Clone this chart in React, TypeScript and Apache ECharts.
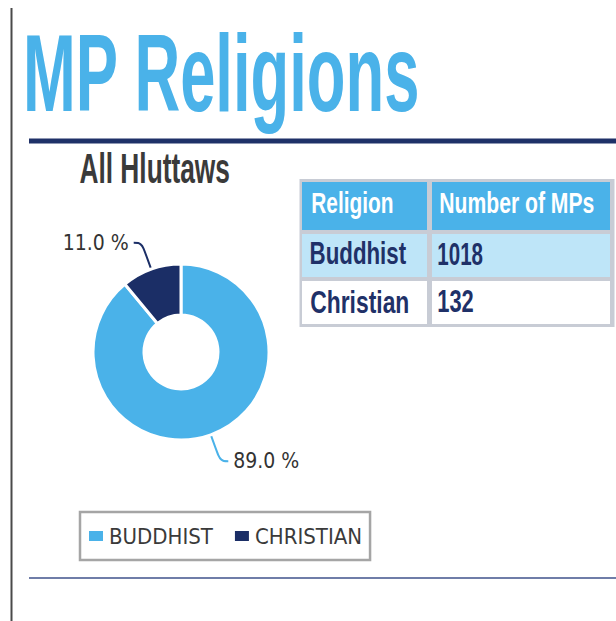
import React, { useEffect, useRef } from "react";
import * as echarts from "echarts";

const titleText = "MP Religions";
const subtitleText = "All Hluttaws";
const tableHeader = ["Religion", "Number of MPs"];
const religions = ["Buddhist", "Christian"];
const mpCounts = [1018, 132];
const pieShares = [89.0, 11.0];
const sliceColors = ["#4AB2E9", "#1B2E66"];

const BASE_FONT = '"Liberation Sans", Arial, sans-serif';
const NARROW_FONT = '"Liberation Sans Narrow", "DejaVu Sans Condensed", "Liberation Sans", sans-serif';

let measureCtx: CanvasRenderingContext2D | null = null;
function measure(text: string, weight: string, size: number) {
  if (!measureCtx) measureCtx = document.createElement("canvas").getContext("2d");
  measureCtx!.font = `${weight} ${size}px ${BASE_FONT}`;
  const m = measureCtx!.measureText(text);
  const l = m.actualBoundingBoxLeft ?? 0;
  const r = m.actualBoundingBoxRight ?? m.width;
  return { ink: l + r, left: -l };
}

// text fitted into a box: left x, baseline y, cap height, ink width
function fitText(text: string, left: number, baseline: number, capH: number, width: number, fill: string, weight = "bold") {
  const fontSize = capH / 0.716;
  const m = measure(text, weight, fontSize);
  const sx = width / m.ink;
  return {
    type: "text",
    x: left - m.left * sx,
    y: baseline - capH / 2,
    scaleX: sx,
    silent: true,
    style: {
      text,
      fill,
      fontSize,
      fontWeight: weight,
      fontFamily: BASE_FONT,
      align: "left",
      verticalAlign: "middle",
    },
  };
}

export default function App() {
  const ref = useRef<HTMLDivElement>(null);

  useEffect(() => {
    document.body.style.margin = "0";
    if (!ref.current) return;
    const chart = echarts.init(ref.current, null, { renderer: "svg" });

    const navy = "#1F3168";
    const blue = "#4AB2E9";
    const graphics: any[] = [];

    // frame lines
    graphics.push({ type: "line", silent: true, shape: { x1: 11.5, y1: 8, x2: 11.5, y2: 621 }, style: { stroke: "#4a4a4a", lineWidth: 2 } });
    graphics.push({ type: "line", silent: true, shape: { x1: 29, y1: 141, x2: 616, y2: 141 }, style: { stroke: navy, lineWidth: 5 } });
    graphics.push({ type: "line", silent: true, shape: { x1: 29, y1: 578, x2: 616, y2: 578 }, style: { stroke: "#6F7DA8", lineWidth: 2 } });

    // title & subtitle
    graphics.push(fitText(titleText, 27, 112, 79, 391, blue));
    graphics.push(fitText(subtitleText, 80, 183.5, 30.5, 149, "#3A3A3A"));

    // table
    const colX = [302, 432];
    const colW = [125, 178];
    const rowY = [182, 234, 281];
    const rowH = [48, 43, 43];
    graphics.push({ type: "rect", silent: true, shape: { x: 299.5, y: 179, width: 315, height: 148 }, style: { fill: "#C8CCD5" } });
    const headerW = [81, 154];
    for (let c = 0; c < 2; c++) {
      graphics.push({ type: "rect", silent: true, shape: { x: colX[c], y: rowY[0], width: colW[c], height: rowH[0] }, style: { fill: blue } });
      graphics.push(fitText(tableHeader[c], colX[c] + (c === 0 ? 10 : 8), 213, 21, headerW[c], "#FFFFFF"));
    }
    const nameW = [95, 97];
    const countW = [45, 35];
    const rowFill = ["#BEE5F8", "#FFFFFF"];
    const baselines = [265, 313];
    for (let r = 0; r < religions.length; r++) {
      for (let c = 0; c < 2; c++) {
        graphics.push({ type: "rect", silent: true, shape: { x: colX[c], y: rowY[r + 1], width: colW[c], height: rowH[r + 1] }, style: { fill: rowFill[r] } });
      }
      graphics.push(fitText(religions[r], 311, baselines[r], 22, nameW[r], navy));
      graphics.push(fitText(String(mpCounts[r]), 438, baselines[r], 22, countW[r], navy));
    }

    chart.setOption({
      animation: false,
      legend: {
        left: 80,
        top: 512,
        orient: "horizontal",
        icon: "rect",
        itemWidth: 16,
        itemHeight: 12,
        itemGap: 20,
        borderColor: "#A5A5A5",
        borderWidth: 2.5,
        padding: [13, 8, 13, 7],
        formatter: (n: string) => n.toUpperCase(),
        textStyle: { fontSize: 22, color: "#3A3A3A", fontFamily: NARROW_FONT },
        data: religions,
      },
      series: [
        {
          type: "pie",
          center: [181, 352],
          radius: [37, 88],
          startAngle: 90,
          clockwise: true,
          itemStyle: { borderColor: "#FFFFFF", borderWidth: 3 },
          label: {
            show: true,
            position: "outside",
            formatter: (p: any) => p.value.toFixed(1) + " %",
            fontSize: 21,
            color: "#333333",
            fontFamily: NARROW_FONT,
          },
          labelLine: { show: true, length: 28, length2: 8, smooth: 0.4, lineStyle: { width: 2 } },
          data: religions.map((name, i) => ({ name, value: pieShares[i], itemStyle: { color: sliceColors[i] } })),
        },
      ],
      graphic: graphics,
    });

    return () => chart.dispose();
  }, []);

  return <div ref={ref} style={{ width: 616, height: 621 }} />;
}
